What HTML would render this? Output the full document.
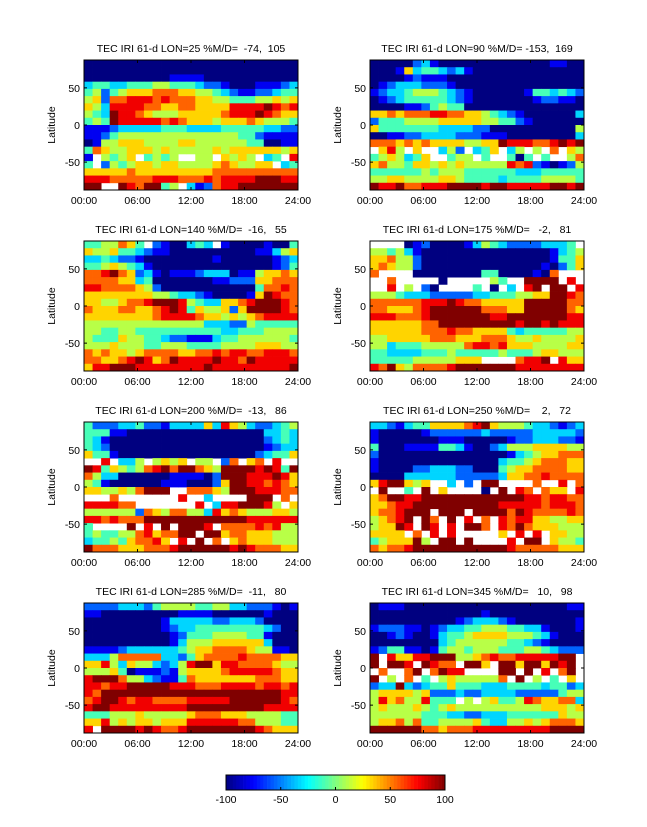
<!DOCTYPE html>
<html><head><meta charset="utf-8"><style>
body{margin:0;background:#fff}
svg text{font-family:"Liberation Sans",sans-serif;font-size:10.5px;fill:#000}
</style></head><body>
<svg id="fig" width="647" height="822" viewBox="0 0 647 822" xmlns="http://www.w3.org/2000/svg"></svg>
<script>
// Level digits 0..9 map to -100..100; 'w' = no data (white). Top row = 87.5N.
const titles=["TEC IRI 61-d LON=25 %M/D=  -74,  105","TEC IRI 61-d LON=90 %M/D= -153,  169","TEC IRI 61-d LON=140 %M/D=  -16,   55","TEC IRI 61-d LON=175 %M/D=   -2,   81","TEC IRI 61-d LON=200 %M/D=  -13,   86","TEC IRI 61-d LON=250 %M/D=    2,   72","TEC IRI 61-d LON=285 %M/D=  -11,   80","TEC IRI 61-d LON=345 %M/D=   10,   98"];
const p1=["0000000000000000000000000","0000000000000000000000000","0000000000111100000000000","3443344455444322100011123","4524566677766554321122344","5627788878777665544455656","6538888776677666688889878","5439887655566666788898766","4549888887876665666765554","1112333334443333444443322","1124555555555555554421111","0155666555566555555440011","4765566656555556566666656","1w5456w4545ww55w6565w34w8","4w25456656655556765566w34","6666676666666667777777777","8887777788877787888899988","99ww9879945w3127889999999"];
const p2=["0000023100000000000001100","0001634432310000000000000","0000121110000000000000000","0123332221000000000000000","1233455543210000001443432","0123444443210000000122110","0000112454400000000000000","6676777887766543210000003","2444555566666554421000000","6444444433332200000000005","0011223333222111000000003","7776767666655669888778989","w685w6ww352w346w35w5w7w65","4565346ww455w4ww404w4ww57","6755466565655555878210125","4444445455544444433344444","5566555566544443444455554","9889778889999899888889989"];
const p3=["4455764w2100343w100001004","6556443211000000000011356","3343221000000001000000123","4456543100000000000000124","7789762310111233301156676","7777663400000001122266777","8877776520000000000047787","6666666655433210000169877","6655677899985433667899987","7666776678984655626999987","6666666678888766565678888","5555555555555533322544444","5544554444444444334445555","5444655443221113445555554","5556555445554444555566655","7676656777766778788778887","7766789867988889887988888","6889998888888898888888889"];
const p4=["wwww01200001354322223334w","5545310000000000000001345","6675520000000000000001446","6765520000000000000010246","7wwww00000000440000107www","ww7wwwww0wwwww54ww9999w8w","ww8w5w20wwww4w0w3w89w99w8","5554333222223344455669987","7777778889877666669999977","7766678999999777669999976","8887778999999988999999988","6666667799999999989989888","6666667778776666434444455","5566666777666777655655556","5534445555578878666555566","4433334445444445444566555","4444455555666wwww7889w866","8796577778999999988888888"];
const p5=["4222334221333363865322345","4441100000000000000003343","4310000000000000000002343","4320000000000000000001233","6441000000000000000023446","ww8w335w5656w55w27w67w8ww","9846545789799765999989849","7533000000111102999888986","5410000001110002699887876","6655657999ww7776599988877","www7wwwwwww8ww3wwww999w7w","888877wwwwwww8w38899985w6","5555552765775538676555665","8878777999999999999888888","4wwww9w8w9w9998w777787855","4544557867799w99677666555","3445467786w8w9w7w67666555","9777666777899999989877766"];
const p6=["3321344666678965554332123","1000001222222322222333332","1000000011100000122333221","4000111144310023555666655","2000000000000000134566777","1000000000000003445677766","1000022333220004566777766","0000333333222223667787777","6899656ww3w2w99wwww7ww8w7","w9ww4w9w6wwww0w9w87w766w8","6799889999999999998878877","6678899999999998888878887","6778999w999w9999798777787","56789w97w9w8w7w8788665566","56698w98w8w997w8797666555","6666w7w8w8wwwww6w8w8w6655","4566695w99w9wwww8w99w6554","7677899999999999877777666"];
const p7=["2222333245555445533222101","1100000000011110000001000","0000000001333332233320000","0000000001233444444443200","0000000000124445555441000","0000000000135556666663000","1111233333345667777655110","3335777773324677778777766","6685365532358996887777655","5556401112156666788888766","8999755321147666666677766","8878899999888777888878878","8799999999999999999999988","7899878877778888899999987","8998888888889999999998888","4445556555556777666555544","6685656656668888887755544","8w99998987789999999987666"];
const p8=["0111000000000000000000011","0000000000000100000000000","0000000000123332100000001","1222110123344555443310001","0012100134456666555431000","0000000034555555443210000","1244110145545554445543222","9w8668899955678778888899w","9w998w9877w996w996996989w","w7ww79w7988wwww99w9w8w79w","9w5w7w4w56555557w9w5w4w6w","2339323446444333444434423","5666656222322333322222455","5867558444w5w5644587667736","5655565456555555555566656","5555554443322333444444655","5667574455556433556567776","9999997767778888888889999"];
const panels=[p1,p2,p3,p4,p5,p6,p7,p8];
const yTicks=[50,0,-50];
const xTickLabels=["00:00","06:00","12:00","18:00","24:00"];
const xTickHours=[0,6,12,18,24];
const cbTicks=[-100,-50,0,50,100];

const NS="http://www.w3.org/2000/svg";
const svg=document.getElementById('fig');
function mk(t,a,p){const e=document.createElementNS(NS,t);for(const k in a)e.setAttribute(k,a[k]);(p||svg).appendChild(e);return e;}
function jet(v){const t=Math.max(0,Math.min(1,(v+100)/200));const c=x=>Math.round(255*Math.max(0,Math.min(1,1.5-Math.abs(4*t-x))));return `rgb(${c(3)},${c(2)},${c(1)})`;}
function toVal(ch){return ch==='w'?null:-100+parseInt(ch,10)*200/9;}
const W=214,H=130,lefts=[84,370],tops=[60,241,422,603];
panels.forEach((rows,pi)=>{
  const x0=lefts[pi%2],y0=tops[Math.floor(pi/2)];
  const g=mk('g',{});
  
  
  const nr=rows.length,nc=25;
  const xs=c=>x0+c*W/nc, ys=r=>y0+r*H/nr;
  rows.forEach((row,r)=>{
    for(let c=0;c<nc;c++){
      const v=toVal(row[c]||'w');
      if(v===null)continue;
      const rc=mk('rect',{x:xs(c).toFixed(2),y:ys(r).toFixed(2),width:(W/nc+0.4).toFixed(2),height:(H/nr+0.4).toFixed(2),fill:jet(v)},g);
      
      
    }
  });
  const fr=mk('rect',{x:x0,y:y0,width:W,height:H,fill:'none',stroke:'#000','stroke-width':1},g);
  
  
  const tt=mk('text',{x:x0+W/2,y:y0-8,'text-anchor':'middle','xml:space':'preserve',style:'white-space:pre'},g);
  tt.textContent=titles[pi];
  
  
  const latY=l=>y0+(87.5-l)/175*H;
  yTicks.forEach(l=>{
    mk('line',{x1:x0,x2:x0+3,y1:latY(l),y2:latY(l),stroke:'#000'},g);
    mk('line',{x1:x0+W,x2:x0+W-3,y1:latY(l),y2:latY(l),stroke:'#000'},g);
    const t=mk('text',{x:x0-4,y:latY(l)+4,'text-anchor':'end'},g);t.textContent=l;
    
    
  });
  const yl=mk('text',{x:0,y:0,'text-anchor':'middle',transform:`translate(${x0-29},${y0+H/2}) rotate(-90)`},g);
  yl.textContent='Latitude';
  
  
  xTickHours.forEach((h,i)=>{
    const x=x0+h/24*W;
    mk('line',{x1:x,x2:x,y1:y0+H,y2:y0+H-3,stroke:'#000'},g);
    mk('line',{x1:x,x2:x,y1:y0,y2:y0+3,stroke:'#000'},g);
    const t=mk('text',{x:x,y:y0+H+14,'text-anchor':'middle'},g);t.textContent=xTickLabels[i];
    
    
  });
});
// colorbar
const cb=mk('g',{});


const cx0=226,cx1=445,cy=775,ch=15,n=64;
for(let i=0;i<n;i++){const v=-100+(i+0.5)*200/n;mk('rect',{x:(cx0+i*(cx1-cx0)/n).toFixed(2),y:cy,width:((cx1-cx0)/n+0.3).toFixed(2),height:ch,fill:jet(v)},cb);}
mk('rect',{x:cx0,y:cy,width:cx1-cx0,height:ch,fill:'none',stroke:'#000'},cb);
cbTicks.forEach(v=>{const x=cx0+(v+100)/200*(cx1-cx0);
  mk('line',{x1:x,x2:x,y1:cy+ch,y2:cy+ch-3,stroke:'#000'},cb);
  const t=mk('text',{x:x,y:cy+ch+13,'text-anchor':'middle'},cb);t.textContent=v;
  
  
});
</script>
</body></html>
